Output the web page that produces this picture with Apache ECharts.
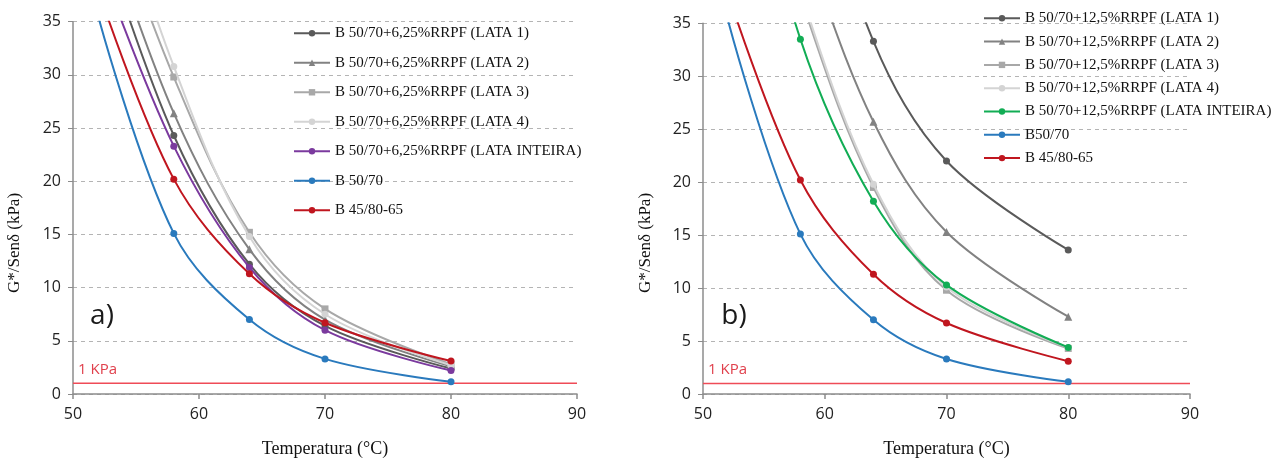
<!DOCTYPE html>
<html>
<head>
<meta charset="utf-8">
<script src="https://cdn.jsdelivr.net/npm/echarts@6/dist/echarts.min.js"></script>
<style>
  html, body { margin: 0; padding: 0; background: #ffffff; }
  #chart { width: 1287px; height: 463px; }
</style>
</head>
<body>
<div id="chart"></div>
<script>
// Test temperatures (°C)
const temps = [52, 58, 64, 70, 80];

// Axis ranges / ticks
const xTicks = { min: 50, max: 90, interval: 10 };
const yTicks = { min: 0, max: 35, interval: 5 };
const limitValue = 1; // 1 KPa criterion

// a) B 50/70 + 6,25% RRPF
const namesA = [
  'B 50/70+6,25%RRPF (LATA 1)',
  'B 50/70+6,25%RRPF (LATA 2)',
  'B 50/70+6,25%RRPF (LATA 3)',
  'B 50/70+6,25%RRPF (LATA 4)',
  'B 50/70+6,25%RRPF (LATA INTEIRA)',
  'B 50/70',
  'B 45/80-65'
];
const a_lata1   = [44, 24.3, 12.2, 6.4, 2.4];
const a_lata2   = [46, 26.4, 13.6, 7.0, 2.6];
const a_lata3   = [49, 29.8, 15.2, 8.0, 2.8];
const a_lata4   = [52, 30.8, 14.8, 7.5, 2.7];
const a_inteira = [41, 23.3, 11.9, 6.0, 2.2];

// b) B 50/70 + 12,5% RRPF
const namesB = [
  'B 50/70+12,5%RRPF (LATA 1)',
  'B 50/70+12,5%RRPF (LATA 2)',
  'B 50/70+12,5%RRPF (LATA 3)',
  'B 50/70+12,5%RRPF (LATA 4)',
  'B 50/70+12,5%RRPF (LATA INTEIRA)',
  'B50/70',
  'B 45/80-65'
];
const b_lata1   = [80, 55, 33.3, 22.0, 13.6];
const b_lata2   = [62, 43.5, 25.7, 15.3, 7.3];
const b_lata3   = [60, 37.5, 19.5, 9.8, 4.3];
const b_lata4   = [61, 38, 19.8, 10.1, 4.4];
const b_inteira = [60, 33.5, 18.2, 10.3, 4.4];

// reference binders (same in both panels)
const ref_5070  = [35.5, 15.1, 7.0, 3.3, 1.15];
const ref_4580  = [38, 20.2, 11.3, 6.7, 3.1];

const colors = ['#5a5a5a', '#828282', '#a8a8a8', '#d4d4d4', '#7b3a9e', '#2a7abd', '#c0161f'];
const colorsB = ['#5a5a5a', '#828282', '#a8a8a8', '#d4d4d4', '#12ad55', '#2a7abd', '#c0161f'];
const symbols = ['circle', 'triangle', 'rect', 'circle', 'circle', 'circle', 'circle'];

const serif = '"Liberation Serif", "Times New Roman", serif';
const sans = '"Open Sans", "Liberation Sans", sans-serif';

function pairs(vals) { return temps.map((t, i) => [t, vals[i]]); }

function makeSeries(names, valsList, cols, idx) {
  return names.map((n, i) => ({
    name: n,
    type: 'line',
    xAxisIndex: idx,
    yAxisIndex: idx,
    smooth: 0.35,
    clip: true,
    data: pairs(valsList[i]),
    symbol: symbols[i],
    symbolSize: (v) => (v[1] > yTicks.max ? 0 : (symbols[i] === 'triangle' ? 8 : 7)),
    lineStyle: { width: 2, color: cols[i] },
    itemStyle: { color: cols[i] },
    emphasis: { disabled: true },
    z: 3 + i
  }));
}

function limitSeries(idx) {
  return {
    name: '1 KPa',
    type: 'line',
    xAxisIndex: idx,
    yAxisIndex: idx,
    silent: true,
    symbol: 'circle',
    symbolSize: 0,
    lineStyle: { width: 1.5, color: '#ef4b57' },
    itemStyle: { color: '#ef4b57' },
    data: [
      { value: [xTicks.min, limitValue],
        label: { show: true, formatter: '1 KPa', position: [5, -21],
                 color: '#e0404c', fontFamily: sans, fontSize: 15 } },
      [xTicks.max, limitValue]
    ],
    z: 2
  };
}

function xAxis(idx) {
  return {
    type: 'value', gridIndex: idx,
    min: xTicks.min, max: xTicks.max, interval: xTicks.interval,
    name: 'Temperatura (°C)', nameLocation: 'middle', nameGap: 46,
    nameTextStyle: { fontFamily: serif, fontSize: 18, color: '#111' },
    axisLine: { lineStyle: { color: '#8c8c8c', width: 1.5 } },
    axisTick: { show: true, length: 5, lineStyle: { color: '#8c8c8c', width: 1.5 } },
    axisLabel: { fontFamily: sans, fontSize: 16, color: '#222', margin: 12 },
    splitLine: { show: false }
  };
}

function yAxis(idx) {
  return {
    type: 'value', gridIndex: idx,
    min: yTicks.min, max: yTicks.max, interval: yTicks.interval,
    axisLine: { show: true, lineStyle: { color: '#8c8c8c', width: 1.5 } },
    axisTick: { show: true, length: 5, lineStyle: { color: '#8c8c8c', width: 1 } },
    axisLabel: { fontFamily: sans, fontSize: 16, color: '#222', margin: 12 },
    splitLine: { show: true, lineStyle: { color: '#b4b4b4', type: [4, 4], width: 1 } }
  };
}

function legend(names, left, top, gap) {
  return {
    data: names,
    orient: 'vertical',
    left: left, top: top,
    padding: 0,
    itemWidth: 36, itemHeight: 8, itemGap: gap,
    selectedMode: false,
    textStyle: { fontFamily: serif, fontSize: 15, color: '#111', lineHeight: 16 }
  };
}

const chart = echarts.init(document.getElementById('chart'), null, { renderer: 'canvas' });

chart.setOption({
  animation: false,
  backgroundColor: '#ffffff',
  grid: [
    { left: 73, top: 21.7, width: 504, height: 374 },
    { left: 703, top: 23.3, width: 487, height: 373.4 }
  ],
  xAxis: [xAxis(0), xAxis(1)],
  yAxis: [yAxis(0), yAxis(1)],
  legend: [
    legend(namesA, 293, 25.3, 13.5),
    legend(namesB, 983, 10.3, 7.3)
  ],
  graphic: [
    { type: 'text', x: 15, y: 243, rotation: Math.PI / 2,
      style: { text: 'G*/Senδ (kPa)', font: '17px ' + serif, fill: '#111',
               textAlign: 'center', textVerticalAlign: 'middle' } },
    { type: 'text', x: 646, y: 243, rotation: Math.PI / 2,
      style: { text: 'G*/Senδ (kPa)', font: '17px ' + serif, fill: '#111',
               textAlign: 'center', textVerticalAlign: 'middle' } },
    { type: 'text', x: 102, y: 316,
      style: { text: 'a)', font: '28px ' + sans, fill: '#1a1a1a',
               textAlign: 'center', textVerticalAlign: 'middle' } },
    { type: 'text', x: 734, y: 316,
      style: { text: 'b)', font: '28px ' + sans, fill: '#1a1a1a',
               textAlign: 'center', textVerticalAlign: 'middle' } }
  ],
  series: [
    limitSeries(0),
    limitSeries(1),
    ...makeSeries(namesA, [a_lata1, a_lata2, a_lata3, a_lata4, a_inteira, ref_5070, ref_4580], colors, 0),
    ...makeSeries(namesB, [b_lata1, b_lata2, b_lata3, b_lata4, b_inteira, ref_5070, ref_4580], colorsB, 1)
  ]
});
</script>
</body>
</html>
